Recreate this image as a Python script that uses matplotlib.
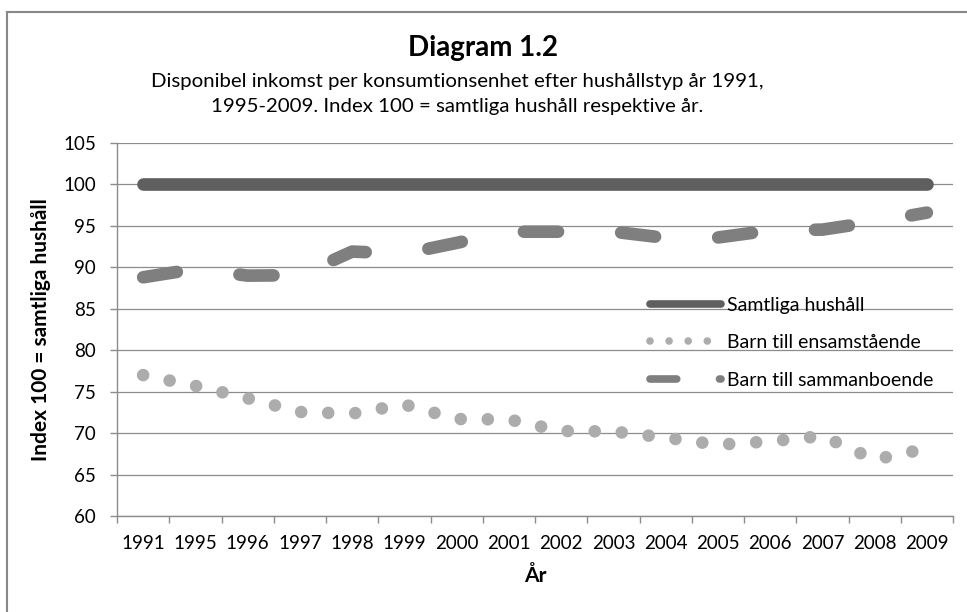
import numpy as np
import matplotlib.pyplot as plt
from matplotlib.lines import Line2D

years = ['1991', '1995', '1996', '1997', '1998', '1999', '2000', '2001',
         '2002', '2003', '2004', '2005', '2006', '2007', '2008', '2009']
samtliga = [100, 100, 100, 100, 100, 100, 100, 100,
            100, 100, 100, 100, 100, 100, 100, 100]
ensamstaende = [77.0, 75.7, 74.2, 72.55, 72.35, 73.45, 71.7, 71.65,
                70.25, 70.2, 69.45, 68.6, 69.0, 69.65, 66.8, 68.15]
sammanboende = [88.8, 89.8, 89.0, 89.05, 91.9, 91.65, 92.95, 94.3,
                94.3, 94.3, 93.55, 93.6, 94.45, 94.55, 95.5, 96.6]
labels = ['Samtliga hushåll', 'Barn till ensamstående', 'Barn till sammanboende']

c_solid = '#5f5f5f'
c_dot = '#acacac'
c_dash = '#7f7f7f'
c_grid = '#8c8c8c'

plt.rcParams['font.family'] = ['Lato', 'DejaVu Sans']

fig = plt.figure(figsize=(9.67, 6.12), dpi=100)
ax = fig.add_axes([117 / 967, 1 - 516 / 612, 836 / 967, 373 / 612])

x = np.arange(len(years))
lw = 9.1
ax.plot(x, samtliga, color=c_solid, lw=lw, solid_capstyle='round', zorder=3)
ax.plot(x, ensamstaende, color=c_dot, lw=lw, linestyle=(0, (0.001, 2.14)),
        dash_capstyle='round', zorder=3)
ax.plot(x, sammanboende, color=c_dash, lw=lw, linestyle=(0, (2.7, 5.0)),
        dash_capstyle='round', zorder=3)

# axes
ax.set_xlim(-0.5, len(years) - 0.5)
ax.set_ylim(60, 105)
ax.set_yticks(np.arange(60, 106, 5))
ax.set_xticks(x)
ax.set_xticklabels(years)
ax.set_xticks(np.arange(-0.5, len(years), 1), minor=True)
ax.tick_params(axis='x', which='major', length=0, pad=14, labelsize=13.5)
ax.tick_params(axis='x', which='minor', length=5, width=1, color=c_grid)
ax.tick_params(axis='y', length=5, width=1, color=c_grid, pad=10, labelsize=13.5)
ax.yaxis.grid(True, color=c_grid, lw=0.9)
ax.set_axisbelow(True)
for s in ['top', 'right']:
    ax.spines[s].set_visible(False)
for s in ['left', 'bottom']:
    ax.spines[s].set_color(c_grid)
    ax.spines[s].set_linewidth(1)

ax.set_xlabel('År', fontsize=15, fontweight='bold', labelpad=10)
ax.set_ylabel('Index 100 = samtliga hushåll', fontsize=15, fontweight='bold', labelpad=9)

# legend
handles = [
    Line2D([], [], color=c_solid, lw=5.5, solid_capstyle='round'),
    Line2D([], [], color=c_dot, lw=5.5, linestyle=(0, (0.001, 2.5)), dash_capstyle='round'),
    Line2D([], [], color=c_dash, lw=5.5, linestyle=(0, (3.5, 5.6)), dash_capstyle='round'),
]
ax.legend(handles, labels, loc='center left', bbox_to_anchor=(0.637, 0.4645),
          frameon=False, fontsize=14, handlelength=3.7, handletextpad=0.3,
          labelspacing=1.05, borderpad=0, borderaxespad=0)

# titles
fig.text(483 / 967, 1 - 48 / 612, 'Diagram 1.2', ha='center', va='center',
         fontsize=20, fontweight='bold')
fig.text(457 / 967, 1 - 94 / 612,
         'Disponibel inkomst per konsumtionsenhet efter hushållstyp år 1991,\n'
         '1995-2009. Index 100 = samtliga hushåll respektive år.',
         ha='center', va='center', fontsize=14.7, linespacing=1.55)

# outer border (left and top visible)
fig.add_artist(Line2D([7 / 967, 7 / 967], [0, 1 - 12 / 612], color='#888888', lw=1.5))
fig.add_artist(Line2D([7 / 967, 1], [1 - 12 / 612, 1 - 12 / 612], color='#888888', lw=1.5))

fig.savefig('out.png', dpi=100)
